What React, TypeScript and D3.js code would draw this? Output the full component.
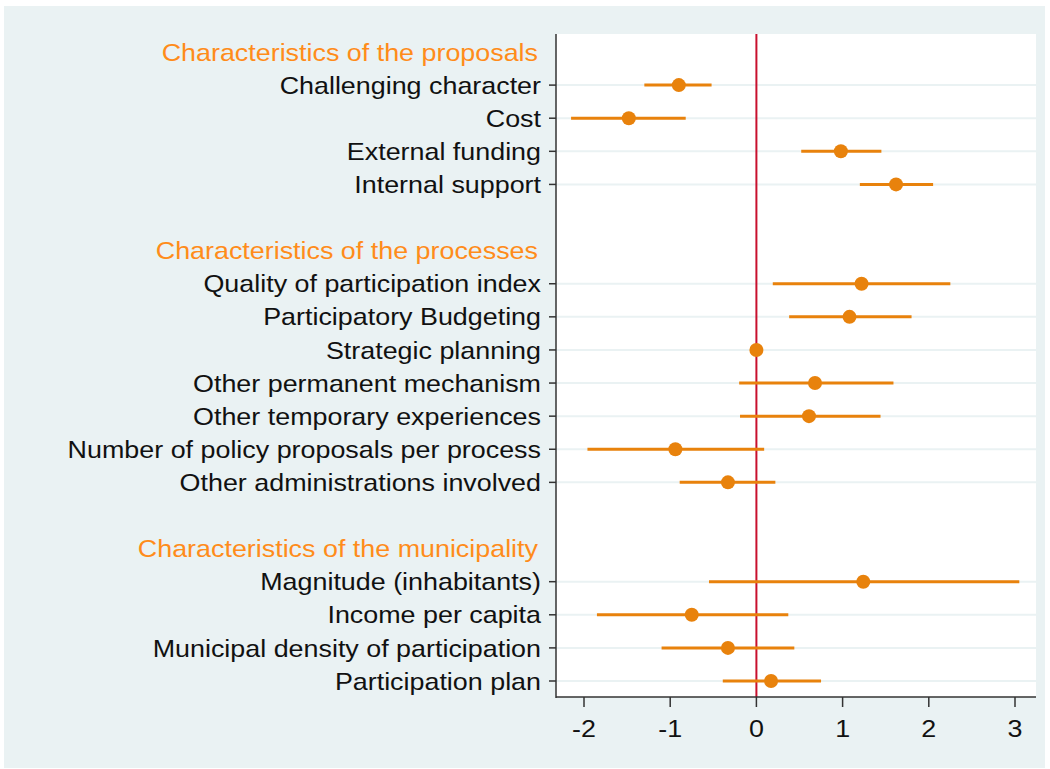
import React from "react";
import * as d3 from "d3";

const headers = [
  "Characteristics of the proposals",
  "Characteristics of the processes",
  "Characteristics of the municipality",
];

// group index for each variable
const groups = [0, 0, 0, 0, 1, 1, 1, 1, 1, 1, 1, 2, 2, 2, 2];
const labels = [
  "Challenging character",
  "Cost",
  "External funding",
  "Internal support",
  "Quality of participation index",
  "Participatory Budgeting",
  "Strategic planning",
  "Other permanent mechanism",
  "Other temporary experiences",
  "Number of policy proposals per process",
  "Other administrations involved",
  "Magnitude (inhabitants)",
  "Income per capita",
  "Municipal density of participation",
  "Participation plan",
];
const estimates = [-0.9, -1.48, 0.98, 1.62, 1.22, 1.08, 0, 0.68, 0.61, -0.94, -0.33, 1.24, -0.75, -0.33, 0.17];
const lower = [-1.3, -2.15, 0.52, 1.2, 0.19, 0.38, 0, -0.2, -0.19, -1.96, -0.89, -0.55, -1.85, -1.1, -0.39];
const upper = [-0.52, -0.82, 1.45, 2.05, 2.25, 1.8, 0, 1.59, 1.44, 0.09, 0.22, 3.05, 0.37, 0.44, 0.75];
const xTicks = [-2, -1, 0, 1, 2, 3];

const W = 1050;
const H = 769;
const left = 556;
const right = 1036;
const top = 34;
const bottom = 697;
const stretch = 1.12;

// build slots: header, vars..., blank between groups
type Slot = { kind: "header" | "var" | "blank"; idx: number };
const slots: Slot[] = [];
headers.forEach((h, g) => {
  if (g > 0) slots.push({ kind: "blank", idx: -1 });
  slots.push({ kind: "header", idx: g });
  labels.forEach((_, i) => {
    if (groups[i] === g) slots.push({ kind: "var", idx: i });
  });
});

export default function App() {
  const x = d3.scaleLinear().domain([-2, 3]).range([584, 1015]);
  const y = d3
    .scalePoint<number>()
    .domain(slots.map((_, i) => i))
    .range([52, 681]);

  const font = "'Liberation Sans', Arial, sans-serif";
  const orange = "#e8820c";

  return (
    <svg width={W} height={H} style={{ position: "absolute", left: 0, top: 0, background: "#fff" }}>
      <rect x={4} y={6} width={1041} height={762} fill="#eaf2f3" />
      <rect x={left} y={top} width={right - left} height={bottom - top} fill="#fff" />
      {slots.map((s, si) =>
        s.kind === "var" ? (
          <line key={"g" + si} x1={left} x2={right} y1={y(si)} y2={y(si)} stroke="#eaf2f3" strokeWidth={2} />
        ) : null
      )}
      <line x1={x(0)} x2={x(0)} y1={top} y2={bottom} stroke="#c8102e" strokeWidth={2} />
      {slots.map((s, si) => {
        if (s.kind !== "var") return null;
        const i = s.idx;
        const yy = y(si)!;
        return (
          <g key={"m" + si}>
            <line x1={x(lower[i])} x2={x(upper[i])} y1={yy} y2={yy} stroke={orange} strokeWidth={3} />
            <circle cx={x(estimates[i])} cy={yy} r={7} fill={orange} />
          </g>
        );
      })}
      <line x1={left} x2={left} y1={top} y2={bottom + 1} stroke="#333" strokeWidth={1.5} />
      <line x1={left} x2={right} y1={bottom} y2={bottom} stroke="#333" strokeWidth={1.5} />
      {slots.map((s, si) => {
        const yy = y(si)!;
        if (s.kind === "var")
          return (
            <g key={"l" + si}>
              <line x1={left - 7} x2={left} y1={yy} y2={yy} stroke="#333" strokeWidth={1.5} />
              <text
                transform={`translate(${left - 15},${yy}) scale(${stretch},1)`}
                dy="0.36em"
                textAnchor="end"
                fontFamily={font}
                fontSize={24}
                fill="#111"
              >
                {labels[s.idx]}
              </text>
            </g>
          );
        if (s.kind === "header")
          return (
            <text
              key={"h" + si}
              transform={`translate(${left - 18},${yy}) scale(${stretch},1)`}
              dy="0.36em"
              textAnchor="end"
              fontFamily={font}
              fontSize={24}
              fill="#ff8c1a"
            >
              {headers[s.idx]}
            </text>
          );
        return null;
      })}
      {xTicks.map((t) => (
        <g key={"t" + t}>
          <line x1={x(t)} x2={x(t)} y1={bottom} y2={bottom + 10} stroke="#333" strokeWidth={1.5} />
          <text
            transform={`translate(${x(t)},${bottom + 31}) scale(${stretch},1)`}
            dy="0.36em"
            textAnchor="middle"
            fontFamily={font}
            fontSize={24}
            fill="#111"
          >
            {t}
          </text>
        </g>
      ))}
    </svg>
  );
}
